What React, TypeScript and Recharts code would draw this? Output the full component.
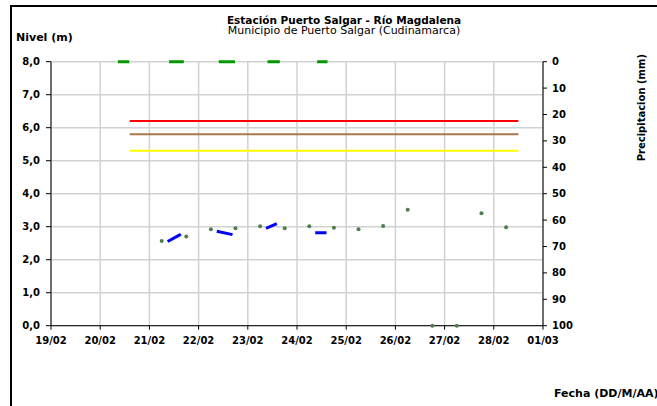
import React from 'react';
import { ComposedChart, Line, Scatter, XAxis, YAxis, CartesianGrid } from 'recharts';

// fechas: 0 = 19/02, 10 = 01/03
const dateLabels = ['19/02', '20/02', '21/02', '22/02', '23/02', '24/02', '25/02', '26/02', '27/02', '28/02', '01/03'];
const dayTicks = [0, 1, 2, 3, 4, 5, 6, 7, 8, 9, 10];
const levelTicks = [0, 1, 2, 3, 4, 5, 6, 7, 8];
const precipTicks = [0, 10, 20, 30, 40, 50, 60, 70, 80, 90, 100];

// lecturas de nivel (m)
const readingDays = [2.25, 2.75, 3.25, 3.75, 4.25, 4.75, 5.25, 5.75, 6.25, 6.75, 7.25, 7.75, 8.25, 8.75, 9.25];
const readingLevels = [2.57, 2.7, 2.92, 2.95, 3.01, 2.95, 3.01, 2.97, 2.92, 3.02, 3.51, 0.0, 0.0, 3.41, 2.98];

// nivel continuo (tramos)
const sensorDays = [2.37, 2.58, 2.64, 3.0, 3.37, 3.69, 4.0, 4.37, 4.59, 5.0, 5.37, 5.6];
const sensorLevels = [2.55, 2.72, 2.77, null, 2.86, 2.76, null, 2.95, 3.09, null, 2.82, 2.82];

// precipitacion (mm)
const rainDays = [1.36, 1.59, 1.9, 2.4, 2.7, 3.0, 3.41, 3.74, 4.0, 4.4, 4.65, 5.0, 5.41, 5.62];
const rainValues = [0, 0, null, 0, 0, null, 0, 0, null, 0, 0, null, 0, 0];

// umbrales
const thresholdSpan = [1.6, 9.5];
const thresholds = [
  { value: 6.2, color: '#ff0000' },
  { value: 5.8, color: '#a67a4e' },
  { value: 5.3, color: '#ffff00' },
];

const readings = readingDays.map((x, i) => ({ x, y: readingLevels[i] }));
const sensor = sensorDays.map((x, i) => ({ x, y: sensorLevels[i] }));
const rain = rainDays.map((x, i) => ({ x, p: rainValues[i] }));

const font = '"DejaVu Sans", sans-serif';
const tickStyle = { fontFamily: font, fontSize: 10, fontWeight: 'bold' as const, fill: '#000' };

const Dot = (props: any) => <circle cx={props.cx} cy={props.cy} r={2} fill="#4e7d4e" />;

export default function App() {
  return (
    <div style={{ position: 'absolute', left: 0, top: 0, width: 657, height: 406, background: '#fff', overflow: 'hidden', fontFamily: font }}>
      <div style={{ position: 'absolute', left: 10, top: 5, width: 660, height: 420, borderLeft: '2px solid #000', borderTop: '2px solid #000' }} />
      <div style={{ position: 'absolute', left: 144, top: 14.5, width: 400, textAlign: 'center', fontSize: 10.5, fontWeight: 'bold', lineHeight: '11px' }}>
        Estación Puerto Salgar - Río Magdalena
      </div>
      <div style={{ position: 'absolute', left: 144, top: 26, width: 400, textAlign: 'center', fontSize: 11, lineHeight: '10px' }}>
        Municipio de Puerto Salgar (Cudinamarca)
      </div>
      <div style={{ position: 'absolute', left: 16, top: 32, fontSize: 11, fontWeight: 'bold', lineHeight: '12px' }}>Nivel (m)</div>
      <div
        style={{
          position: 'absolute',
          left: 636,
          top: 54,
          fontSize: 10,
          fontWeight: 'bold',
          lineHeight: '11px',
          writingMode: 'vertical-rl',
          transform: 'rotate(180deg)',
        }}
      >
        Precipitacion (mm)
      </div>
      <div style={{ position: 'absolute', left: 554, top: 388, fontSize: 11, fontWeight: 'bold', lineHeight: '12px', whiteSpace: 'nowrap' }}>
        Fecha (DD/M/AA)
      </div>
      <div style={{ position: 'absolute', left: 0, top: 0 }}>
        <ComposedChart width={657} height={406} margin={{ top: 61.7, right: 74, bottom: 50.3, left: 0 }}>
          <CartesianGrid yAxisId="left" stroke="#d2d2d2" strokeWidth={1.5} />
          <XAxis
            dataKey="x"
            type="number"
            domain={[0, 10]}
            ticks={dayTicks}
            tickFormatter={(v: number) => dateLabels[v]}
            tick={tickStyle}
            tickSize={4}
            tickMargin={7}
            height={30}
            stroke="#000"
            interval={0}
            allowDuplicatedCategory={false}
          />
          <YAxis
            yAxisId="left"
            type="number"
            domain={[0, 8]}
            ticks={levelTicks}
            tickFormatter={(v: number) => v.toFixed(1).replace('.', ',')}
            tick={tickStyle}
            tickSize={5}
            tickMargin={6}
            width={51}
            stroke="#000"
            interval={0}
          />
          <YAxis
            yAxisId="right"
            orientation="right"
            type="number"
            domain={[0, 100]}
            reversed
            ticks={precipTicks}
            tick={{ ...tickStyle, textAnchor: 'start' }}
            tickSize={4}
            tickMargin={5}
            width={40}
            stroke="#000"
            interval={0}
          />
          {thresholds.map((t) => (
            <Line
              key={t.value}
              yAxisId="left"
              data={thresholdSpan.map((x) => ({ x, y: t.value }))}
              dataKey="y"
              stroke={t.color}
              strokeWidth={2}
              dot={false}
              isAnimationActive={false}
            />
          ))}
          <Line
            yAxisId="right"
            data={rain}
            dataKey="p"
            stroke="#009a00"
            strokeWidth={3}
            dot={false}
            connectNulls={false}
            isAnimationActive={false}
          />
          <Line
            yAxisId="left"
            data={sensor}
            dataKey="y"
            stroke="#0000ff"
            strokeWidth={3}
            dot={false}
            connectNulls={false}
            isAnimationActive={false}
          />
          <Scatter yAxisId="left" data={readings} dataKey="y" shape={Dot} isAnimationActive={false} />
        </ComposedChart>
      </div>
    </div>
  );
}
